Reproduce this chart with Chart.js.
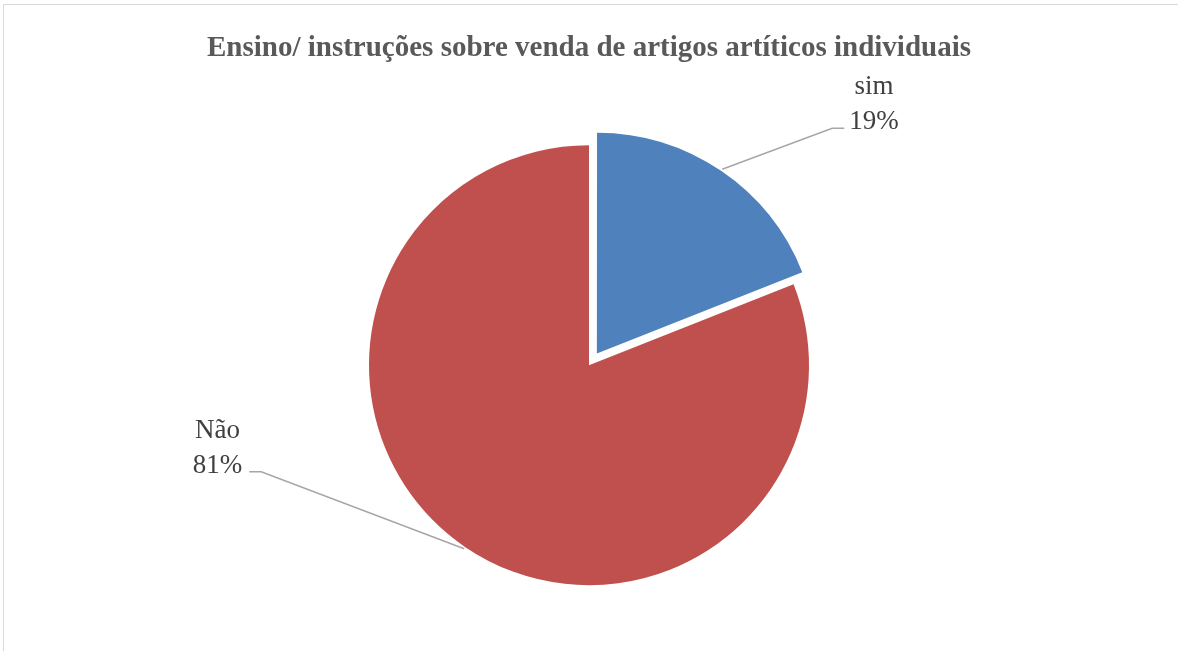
<!DOCTYPE html>
<html>
<head>
<meta charset="utf-8">
<script src="https://cdn.jsdelivr.net/npm/chart.js@4"></script>
<style>
  html, body { margin: 0; padding: 0; background: #fff; overflow: hidden; }
  #frame { position: absolute; left: 3px; top: 4px; width: 1300px; height: 800px; border: 1px solid #d9d9d9; }
  #wrap { position: absolute; left: 0; top: 0; width: 1178px; height: 654px; }
</style>
</head>
<body>
<div id="frame"></div>
<div id="wrap"><canvas id="pieChart"></canvas></div>
<script>
const chartTitle = 'Ensino/ instruções sobre venda de artigos artíticos individuais'
const categories = ['sim', 'Não']
const percentages = [19, 81]

const sliceColors = ['#4F81BD', '#C0504D']
const sliceOffsets = [56, 0]          // chart.js moves a slice by about offset/4
const leaderShift = [[110, -41], [-203, -77]]  // elbow of each leader line, from its start

const pieLabels = {
  id: 'pieLabels',
  afterDatasetsDraw(chart) {
    const ctx = chart.ctx
    const arcs = chart.getDatasetMeta(0).data
    ctx.save()
    arcs.forEach((arc, i) => {
      const p = arc.getProps(['x', 'y', 'startAngle', 'endAngle', 'outerRadius', 'circumference'], true)
      const mid = (p.startAngle + p.endAngle) / 2
      // same shift as the arc element uses when it draws an offset slice
      const off = (arc.options.offset || 0) / 4
      const shift = off + off * (1 - Math.sin(Math.min(Math.PI, p.circumference)))
      const cx = p.x + Math.cos(mid) * shift
      const cy = p.y + Math.sin(mid) * shift
      const sx = cx + Math.cos(mid) * (p.outerRadius + 2)
      const sy = cy + Math.sin(mid) * (p.outerRadius + 2)
      const ex = sx + leaderShift[i][0]
      const ey = sy + leaderShift[i][1]
      const dir = leaderShift[i][0] > 0 ? 1 : -1

      ctx.strokeStyle = '#a6a6a6'
      ctx.lineWidth = 1.5
      ctx.beginPath()
      ctx.moveTo(sx, sy)
      ctx.lineTo(ex, ey)
      ctx.lineTo(ex + dir * 12, ey)
      ctx.stroke()

      ctx.font = '27px "Liberation Serif", "Times New Roman", serif'
      ctx.fillStyle = '#404040'
      ctx.textAlign = 'center'
      ctx.textBaseline = 'alphabetic'
      const name = categories[i]
      const pct = percentages[i] + '%'
      const w = Math.max(ctx.measureText(name).width, ctx.measureText(pct).width)
      const tx = dir > 0 ? ex + 17 + w / 2 : ex - 19 - w / 2
      ctx.fillText(name, tx, ey - 34)
      ctx.fillText(pct, tx, ey + 1)
    })
    ctx.restore()
  }
}

new Chart(document.getElementById('pieChart'), {
  type: 'pie',
  data: {
    labels: categories,
    datasets: [{
      data: percentages,
      backgroundColor: sliceColors,
      borderWidth: 0,
      offset: sliceOffsets
    }]
  },
  options: {
    responsive: true,
    maintainAspectRatio: false,
    animation: false,
    radius: 220,
    layout: { padding: 0 },
    plugins: {
      legend: { display: false },
      tooltip: { enabled: false },
      title: {
        display: true,
        text: chartTitle,
        color: '#595959',
        font: { family: '"Liberation Serif", "Times New Roman", serif', size: 29, weight: 'bold' },
        padding: { top: 31.6, bottom: 10 }
      }
    }
  },
  plugins: [pieLabels]
})
</script>
</body>
</html>
